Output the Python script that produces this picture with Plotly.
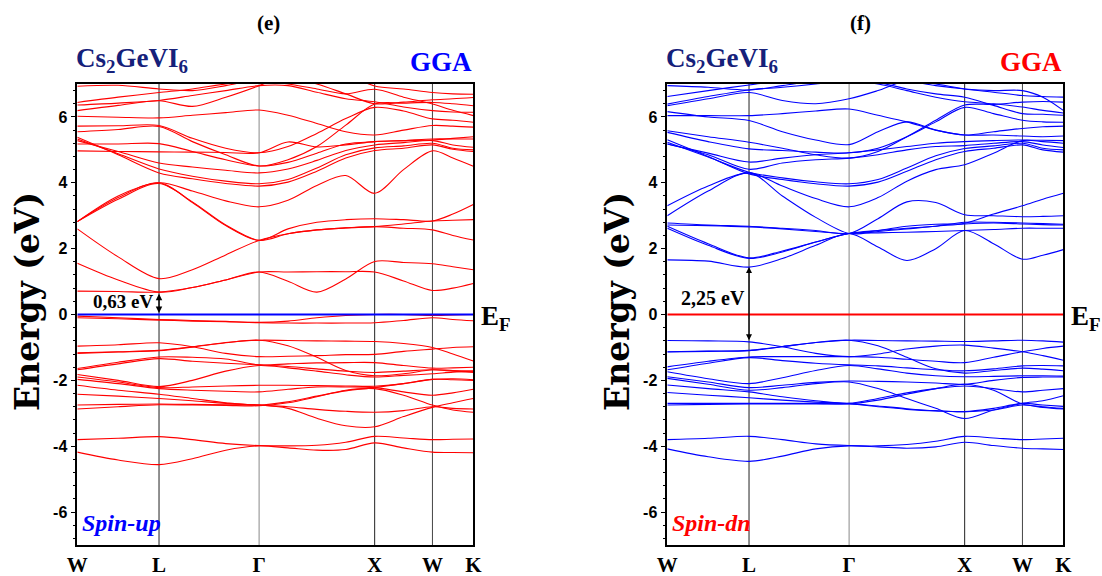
import numpy as np
import plotly.graph_objects as go

# ---------------- k-path (FCC, units of 2*pi/a) ----------------
hs_labels = ["W", "L", "Γ", "X", "W", "K"]
hs_coords = [(1, 0.5, 0), (0.5, 0.5, 0.5), (0, 0, 0), (1, 0, 0), (1, 0.5, 0), (0.75, 0.75, 0)]
seg_fracs = [[0, 0.5], [0, 1/3, 2/3], [0, 0.25, 0.5, 0.75], [0, 0.5], [0, 0.5]]

hs_pos = [0.0]
for a, b in zip(hs_coords[:-1], hs_coords[1:]):
    hs_pos.append(hs_pos[-1] + float(np.linalg.norm(np.subtract(b, a))))
k = []
for i, fr in enumerate(seg_fracs):
    for f in fr:
        k.append(hs_pos[i] + f * (hs_pos[i + 1] - hs_pos[i]))
k.append(hs_pos[-1])
# sample order: W, WL/2, L, LG/3, 2LG/3, G, GX/4, GX/2, 3GX/4, X, XW/2, W, WK/2, K

# ---------------- Spin-up bands (eV) ----------------
up_val = [
    [-0.05, -0.10, -0.15, -0.18, -0.21, -0.24, -0.20, -0.10, -0.03, 0.00, 0.00, -0.03, -0.01, 0.00],
    [-0.10, -0.13, -0.17, -0.20, -0.22, -0.25, -0.26, -0.26, -0.26, -0.25, -0.18, -0.10, -0.15, -0.19],
    [-0.96, -0.92, -0.86, -0.98, -1.18, -1.28, -1.27, -1.25, -1.22, -1.21, -1.12, -1.05, -1.00, -0.98],
    [-1.16, -1.13, -1.09, -0.98, -0.85, -0.78, -0.79, -0.80, -0.81, -0.82, -0.88, -1.00, -1.20, -1.41],
    [-1.18, -1.14, -1.10, -0.99, -0.86, -0.78, -0.95, -1.30, -1.70, -1.86, -1.80, -1.68, -1.70, -1.72],
    [-1.64, -1.45, -1.29, -1.30, -1.35, -1.53, -1.50, -1.47, -1.46, -1.46, -1.55, -1.63, -1.62, -1.60],
    [-1.68, -1.50, -1.34, -1.42, -1.48, -1.53, -1.58, -1.65, -1.72, -1.76, -1.72, -1.68, -1.72, -1.76],
    [-1.82, -2.00, -2.19, -2.00, -1.72, -1.55, -1.62, -1.72, -1.83, -1.90, -1.85, -1.80, -1.75, -1.72],
    [-1.90, -2.05, -2.22, -2.20, -2.17, -2.15, -2.15, -2.16, -2.17, -2.18, -2.10, -1.97, -1.95, -1.98],
    [-1.97, -2.10, -2.25, -2.30, -2.33, -2.35, -2.27, -2.20, -2.20, -2.22, -2.35, -2.45, -2.38, -2.27],
    [-2.15, -2.30, -2.42, -2.55, -2.68, -2.75, -2.65, -2.48, -2.32, -2.22, -2.10, -1.97, -1.98, -2.00],
    [-2.42, -2.48, -2.55, -2.62, -2.70, -2.75, -2.80, -2.88, -2.94, -2.97, -2.92, -2.80, -2.85, -2.87],
    [-2.75, -2.73, -2.72, -2.73, -2.74, -2.75, -2.85, -3.15, -3.38, -3.41, -3.10, -2.82, -2.68, -2.55],
    [-2.87, -2.80, -2.74, -2.75, -2.76, -2.77, -2.68, -2.50, -2.30, -2.25, -2.45, -2.75, -2.90, -2.97],
    [-3.80, -3.76, -3.71, -3.80, -3.92, -3.98, -3.99, -3.97, -3.88, -3.70, -3.75, -3.80, -3.79, -3.78],
    [-4.18, -4.42, -4.56, -4.38, -4.12, -3.99, -4.05, -4.12, -4.10, -3.90, -4.05, -4.18, -4.19, -4.20],
]
up_cond = [
    [0.71, 0.70, 0.68, 0.82, 1.05, 1.29, 1.29, 1.30, 1.30, 1.29, 1.02, 0.73, 0.80, 0.94],
    [1.56, 1.05, 0.68, 0.82, 1.05, 1.29, 1.01, 0.68, 1.08, 1.61, 1.58, 1.54, 1.45, 1.36],
    [2.60, 1.75, 1.09, 1.36, 1.81, 2.25, 2.45, 2.57, 2.63, 2.67, 2.62, 2.57, 2.40, 2.26],
    [2.82, 3.55, 4.00, 3.40, 2.70, 2.25, 2.60, 2.80, 2.88, 2.91, 2.88, 2.84, 3.05, 3.34],
    [2.82, 3.50, 3.98, 3.42, 2.72, 2.25, 2.45, 2.57, 2.63, 2.67, 2.75, 2.84, 2.86, 2.88],
    [2.82, 3.60, 4.00, 3.75, 3.45, 3.27, 3.47, 3.92, 4.22, 3.68, 4.40, 4.97, 4.75, 4.50],
    [5.38, 4.85, 4.30, 4.12, 3.98, 3.90, 4.02, 4.35, 4.75, 4.98, 5.05, 5.15, 5.02, 4.95],
    [5.33, 4.88, 4.42, 4.20, 4.05, 3.97, 4.10, 4.45, 4.85, 5.06, 5.12, 5.20, 5.05, 5.00],
    [5.28, 4.95, 4.60, 4.48, 4.38, 4.30, 4.42, 4.68, 4.98, 5.15, 5.22, 5.28, 5.15, 5.08],
    [5.18, 5.18, 5.19, 4.95, 4.70, 4.51, 4.62, 4.90, 5.18, 5.25, 5.28, 5.33, 5.33, 5.33],
    [4.97, 4.95, 4.94, 4.93, 4.92, 4.91, 5.24, 5.09, 5.15, 5.25, 5.28, 5.30, 5.35, 5.40],
    [5.72, 5.73, 5.74, 5.35, 5.05, 4.91, 5.10, 5.50, 5.95, 6.29, 6.18, 5.94, 5.90, 5.84],
    [5.55, 5.62, 5.71, 5.25, 4.85, 4.51, 4.70, 5.10, 5.75, 6.39, 6.42, 6.44, 6.40, 6.34],
    [6.02, 5.99, 5.97, 6.05, 6.13, 6.21, 6.05, 5.80, 5.55, 5.45, 5.60, 5.74, 5.72, 5.69],
    [6.19, 6.35, 6.49, 6.32, 6.60, 6.95, 7.30, 7.50, 7.30, 6.94, 6.85, 6.74, 6.70, 6.69],
    [6.36, 6.42, 6.50, 6.65, 6.80, 6.95, 6.95, 6.75, 6.55, 6.46, 6.30, 6.19, 6.15, 6.14],
    [6.44, 6.60, 6.74, 6.85, 7.00, 7.10, 7.00, 6.85, 6.70, 6.84, 6.60, 6.39, 6.20, 6.04],
    [6.93, 6.96, 6.85, 6.80, 6.95, 7.15, 7.20, 7.00, 6.70, 6.40, 6.45, 6.52, 6.55, 6.59],
]

# ---------------- Spin-down bands (eV) ----------------
dn_val = [
    [-0.79, -0.80, -0.83, -0.98, -1.18, -1.28, -1.20, -1.05, -0.96, -0.93, -1.02, -1.13, -1.25, -1.39],
    [-1.13, -1.11, -1.09, -0.97, -0.85, -0.78, -0.79, -0.80, -0.81, -0.82, -0.80, -0.78, -0.80, -0.84],
    [-1.14, -1.12, -1.10, -0.98, -0.85, -0.78, -0.95, -1.30, -1.65, -1.78, -1.70, -1.63, -1.66, -1.71],
    [-1.59, -1.42, -1.29, -1.28, -1.28, -1.28, -1.30, -1.36, -1.42, -1.46, -1.30, -1.13, -1.03, -0.96],
    [-1.68, -1.48, -1.31, -1.40, -1.48, -1.53, -1.56, -1.62, -1.68, -1.71, -1.65, -1.56, -1.55, -1.56],
    [-1.74, -1.95, -2.10, -1.92, -1.70, -1.55, -1.65, -1.78, -1.86, -1.89, -1.88, -1.86, -1.86, -1.87],
    [-1.89, -2.05, -2.22, -2.15, -2.06, -2.02, -2.03, -2.05, -2.08, -2.12, -2.00, -1.91, -1.90, -1.90],
    [-1.94, -2.12, -2.30, -2.22, -2.10, -2.05, -2.25, -2.55, -2.85, -3.16, -2.90, -2.70, -2.62, -2.47],
    [-2.14, -2.25, -2.35, -2.50, -2.62, -2.70, -2.55, -2.38, -2.25, -2.17, -2.25, -2.35, -2.30, -2.25],
    [-2.37, -2.45, -2.53, -2.60, -2.66, -2.70, -2.78, -2.86, -2.92, -2.95, -2.85, -2.70, -2.75, -2.79],
    [-2.70, -2.70, -2.70, -2.70, -2.70, -2.71, -2.60, -2.42, -2.25, -2.12, -2.30, -2.72, -2.80, -2.85],
    [-2.75, -2.73, -2.72, -2.72, -2.72, -2.72, -2.80, -2.88, -2.93, -2.95, -2.90, -2.75, -2.82, -2.87],
    [-3.80, -3.76, -3.70, -3.80, -3.93, -3.98, -3.99, -3.95, -3.85, -3.70, -3.75, -3.80, -3.78, -3.76],
    [-4.08, -4.32, -4.46, -4.30, -4.08, -3.99, -4.02, -4.06, -4.02, -3.88, -3.98, -4.06, -4.08, -4.10],
]
dn_cond = [
    [1.66, 1.62, 1.44, 1.70, 2.10, 2.46, 2.05, 1.64, 2.00, 2.55, 2.15, 1.68, 1.80, 1.97],
    [2.62, 2.10, 1.70, 1.90, 2.20, 2.46, 2.55, 2.62, 2.68, 2.75, 2.78, 2.75, 2.73, 2.72],
    [2.68, 2.15, 1.72, 1.93, 2.20, 2.46, 2.48, 2.50, 2.52, 2.55, 2.58, 2.62, 2.62, 2.62],
    [2.78, 2.72, 2.68, 2.62, 2.55, 2.46, 2.91, 3.42, 3.40, 3.03, 3.00, 2.97, 2.98, 3.00],
    [2.72, 2.70, 2.66, 2.60, 2.52, 2.46, 2.55, 2.68, 2.74, 2.77, 3.05, 3.30, 3.50, 3.68],
    [3.00, 3.75, 4.30, 3.60, 2.95, 2.46, 2.52, 2.60, 2.68, 2.80, 2.80, 2.78, 2.76, 2.74],
    [3.30, 3.90, 4.30, 3.90, 3.52, 3.27, 3.55, 4.05, 4.40, 4.55, 4.90, 5.28, 5.25, 5.20],
    [5.31, 4.80, 4.27, 4.10, 3.97, 3.90, 4.02, 4.35, 4.70, 4.95, 5.05, 5.15, 5.00, 4.93],
    [5.23, 4.78, 4.32, 4.15, 4.03, 3.97, 4.10, 4.45, 4.82, 5.04, 5.12, 5.20, 5.05, 5.00],
    [5.18, 4.85, 4.41, 4.60, 4.70, 4.75, 4.85, 5.00, 5.10, 5.13, 5.20, 5.25, 5.15, 5.07],
    [5.18, 4.90, 4.63, 4.75, 4.85, 4.91, 5.00, 5.10, 5.20, 5.25, 5.28, 5.30, 5.29, 5.28],
    [5.53, 5.25, 5.03, 4.98, 4.93, 4.91, 5.05, 5.40, 5.85, 6.29, 6.10, 5.90, 5.85, 5.84],
    [5.58, 5.40, 5.23, 5.05, 4.85, 4.75, 4.95, 5.40, 5.90, 6.36, 6.38, 6.45, 6.47, 6.45],
    [6.16, 6.00, 5.89, 5.55, 5.30, 5.16, 5.55, 5.85, 5.60, 5.45, 5.55, 5.65, 5.70, 5.72],
    [6.04, 6.04, 6.04, 6.10, 6.18, 6.24, 6.05, 5.85, 5.60, 5.45, 5.45, 5.42, 5.40, 5.42],
    [6.34, 6.55, 6.74, 6.50, 6.40, 6.55, 6.80, 7.10, 7.00, 6.85, 6.75, 6.65, 6.62, 6.60],
    [6.39, 6.62, 6.82, 6.90, 7.00, 7.10, 7.00, 6.80, 6.60, 6.46, 6.40, 6.30, 6.20, 6.12],
    [6.62, 6.80, 6.97, 7.10, 7.20, 7.20, 7.05, 6.85, 6.70, 6.60, 6.35, 6.10, 6.08, 6.05],
    [6.95, 6.90, 6.82, 6.95, 7.10, 7.20, 7.20, 7.10, 6.95, 6.85, 6.80, 6.80, 6.60, 6.20],
]

gap_up = 0.63
gap_dn = 2.25
gap_up_vbm, gap_up_cbm = 0.0, 0.63
gap_dn_vbm, gap_dn_cbm = -0.83, 1.44

# ---------------- figure ----------------
W, H = 1102, 576
fig = go.Figure()

def add_bands(bands, color, xa, ya):
    for b in bands:
        fig.add_trace(go.Scatter(x=k, y=b, mode="lines", xaxis=xa, yaxis=ya,
                                 line=dict(color=color, width=1.1, shape="spline", smoothing=0.9),
                                 showlegend=False, hoverinfo="skip"))

add_bands(up_val + up_cond, "#ff0000", "x", "y")
add_bands(dn_val + dn_cond, "#0000ff", "x2", "y2")

# Fermi levels
fig.add_trace(go.Scatter(x=[hs_pos[0], hs_pos[-1]], y=[0, 0], mode="lines", xaxis="x", yaxis="y",
                         line=dict(color="#0000ff", width=2), showlegend=False, hoverinfo="skip"))
fig.add_trace(go.Scatter(x=[hs_pos[0], hs_pos[-1]], y=[0, 0], mode="lines", xaxis="x2", yaxis="y2",
                         line=dict(color="#ff0000", width=2), showlegend=False, hoverinfo="skip"))

# vertical high-symmetry lines
vcolors = ["#222222", "#222222", "#888888", "#222222", "#444444", "#222222"]
shapes = []
for xr, yr in (("x", "y domain"), ("x2", "y2 domain")):
    for p, c in zip(hs_pos[1:-1], vcolors[1:-1]):
        shapes.append(dict(type="line", xref=xr, yref=yr, x0=p, x1=p, y0=0, y1=1,
                           line=dict(color=c, width=1), layer="below"))

def px(x):
    return x / W

def py(y):
    return 1 - y / H

serif = "Liberation Serif"
navy = "#15207a"
ann = []
ann.append(dict(x=px(268), y=py(23), xref="paper", yref="paper", xanchor="center", yanchor="middle",
                text="<b>(e)</b>", showarrow=False, font=dict(family=serif, size=21, color="black")))
ann.append(dict(x=px(860), y=py(23), xref="paper", yref="paper", xanchor="center", yanchor="middle",
                text="<b>(f)</b>", showarrow=False, font=dict(family=serif, size=21, color="black")))
for xl, xr_, gcol in ((77, 472, "#0000ff"), (667, 1062, "#ff0000")):
    ann.append(dict(x=px(xl - 3), y=py(60), xref="paper", yref="paper", xanchor="left", yanchor="middle",
                    text="<b>Cs<sub>2</sub>GeVI<sub>6</sub></b>", showarrow=False,
                    font=dict(family=serif, size=27, color=navy)))
    ann.append(dict(x=px(xr_ + 2), y=py(62), xref="paper", yref="paper", xanchor="right", yanchor="middle",
                    text="<b>GGA</b>", showarrow=False, font=dict(family=serif, size=27, color=gcol)))
for xe in (479, 1069):
    ann.append(dict(x=px(xe), y=py(318), xref="paper", yref="paper", xanchor="left", yanchor="middle",
                    text="<b>E<sub>F</sub></b>", showarrow=False, font=dict(family=serif, size=27, color="black")))
for xc in (27, 617):
    ann.append(dict(x=px(xc), y=py(302), xref="paper", yref="paper", textangle=-90,
                    xanchor="center", yanchor="middle",
                    text="<b>Energy (eV)</b>", showarrow=False,
                    font=dict(family="DejaVu Serif", size=33, color="black")))
ann.append(dict(x=px(80), y=py(523), xref="paper", yref="paper", xanchor="left", yanchor="middle",
                text="<b><i>Spin-up</i></b>", showarrow=False, font=dict(family=serif, size=24, color="#0000ff")))
ann.append(dict(x=px(670), y=py(523), xref="paper", yref="paper", xanchor="left", yanchor="middle",
                text="<b><i>Spin-dn</i></b>", showarrow=False, font=dict(family=serif, size=24, color="#ff0000")))

# gap arrows
kL = hs_pos[1]
ann.append(dict(x=kL, y=gap_up_cbm, ax=kL, ay=gap_up_vbm, xref="x", yref="y", axref="x", ayref="y",
                text="", showarrow=True, arrowhead=2, startarrowhead=2, arrowside="end+start",
                arrowsize=1, arrowwidth=1.3, arrowcolor="black"))
ann.append(dict(x=kL, y=0.38, xref="x", yref="y", xanchor="right", yanchor="middle", xshift=-4,
                text="<b>%s eV</b>" % f"{gap_up:.2f}".replace(".", ","), showarrow=False,
                font=dict(family=serif, size=19, color="black")))
ann.append(dict(x=kL, y=gap_dn_cbm, ax=kL, ay=gap_dn_vbm, xref="x2", yref="y2", axref="x2", ayref="y2",
                text="", showarrow=True, arrowhead=2, startarrowhead=2, arrowside="end+start",
                arrowsize=1, arrowwidth=1.2, arrowcolor="black"))
ann.append(dict(x=kL, y=0.5, xref="x2", yref="y2", xanchor="right", yanchor="middle", xshift=-2,
                text="<b>%s eV</b>" % f"{gap_dn:.2f}".replace(".", ","), showarrow=False,
                font=dict(family=serif, size=20, color="black")))

ytv = [-6, -4, -2, 0, 2, 4, 6]
xax = dict(range=[hs_pos[0], hs_pos[-1]], tickvals=hs_pos, ticktext=hs_labels, ticks="",
           showgrid=False, zeroline=False, showline=True, linecolor="black", linewidth=1.5, mirror=True,
           automargin=False,
           tickfont=dict(family=serif, size=21, color="black", weight="bold"))
yax = dict(range=[-7, 7], tickvals=ytv, ticktext=[str(v) for v in ytv], ticks="outside", ticklen=5,
           tickwidth=1.3, tickcolor="black", showgrid=False, zeroline=False, showline=True,
           linecolor="black", linewidth=1.5, mirror=True, automargin=False,
           minor=dict(dtick=0.4, ticks="outside", ticklen=3, tickcolor="black", tickwidth=1),
           tickfont=dict(family="Liberation Sans", size=16, color="black", weight="bold"))

fig.update_layout(
    width=W, height=H, margin=dict(l=0, r=0, t=0, b=0, autoexpand=False),
    paper_bgcolor="white", plot_bgcolor="white",
    xaxis=dict(xax, domain=[77.3 / W, 473.3 / W], anchor="y"),
    yaxis=dict(yax, domain=[1 - 545 / H, 1 - 84 / H], anchor="x"),
    xaxis2=dict(xax, domain=[667.3 / W, 1063.3 / W], anchor="y2"),
    yaxis2=dict(yax, domain=[1 - 545 / H, 1 - 84 / H], anchor="x2"),
    shapes=shapes, annotations=ann,
)

fig.write_html("out.html")
